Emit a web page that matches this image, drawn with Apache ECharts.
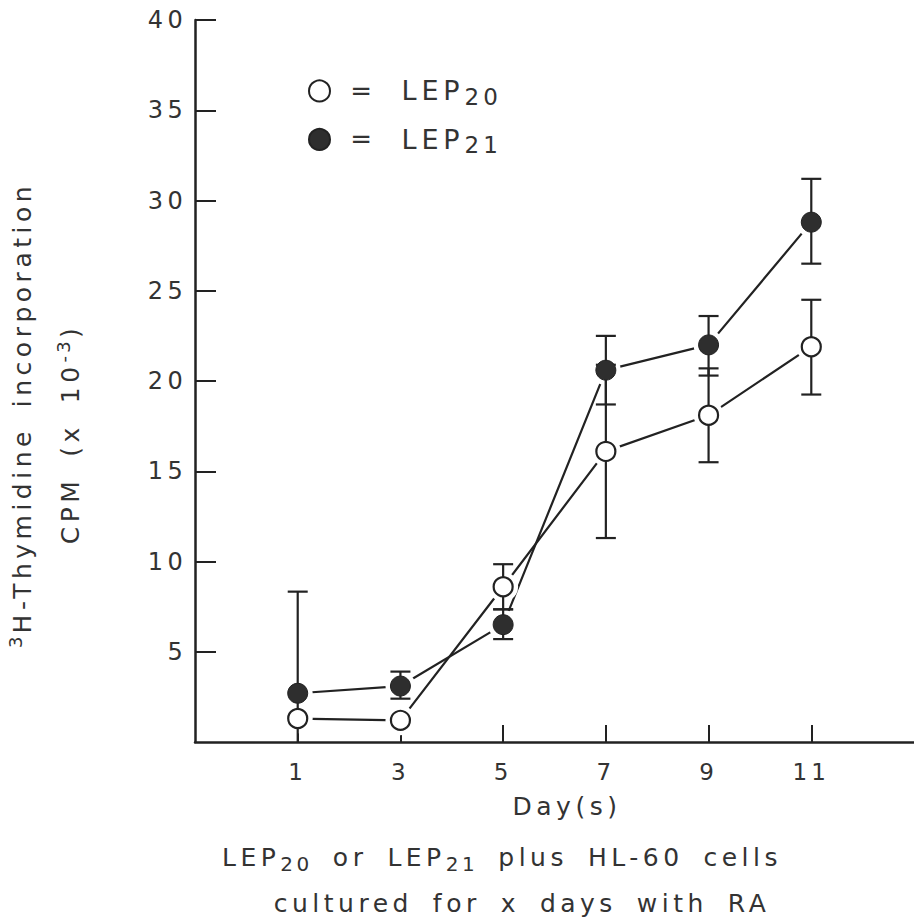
<!DOCTYPE html>
<html>
<head>
<meta charset="utf-8">
<script src="https://cdn.jsdelivr.net/npm/echarts@6/dist/echarts.min.js"></script>
<style>
  html, body { margin: 0; padding: 0; background: #ffffff; }
  #chart { width: 914px; height: 918px; }
  /* wide, plotter-style lettering */
  #chart svg text {
    font-family: "DejaVu Sans", Verdana, sans-serif !important;
    letter-spacing: 0.18em;
    word-spacing: 0.3em;
  }
</style>
</head>
<body>
<div id="chart"></div>
<script>
// Days of culture with RA
const days = [1, 3, 5, 7, 9, 11];

// LEP20 (open circles): mean and error-bar ends, CPM x 10^-3
const lep20Mean = [1.3, 1.2, 8.6, 16.1, 18.1, 21.9];
const lep20Low  = [1.3, 1.2, 7.35, 11.3, 15.5, 19.25];
const lep20High = [1.3, 1.2, 9.85, 20.9, 20.7, 24.5];

// LEP21 (filled circles): mean and error-bar ends, CPM x 10^-3
const lep21Mean = [2.7, 3.1, 6.5, 20.6, 22.0, 28.8];
const lep21Low  = [0, 2.4, 5.7, 18.7, 20.3, 26.5];
const lep21High = [8.33, 3.9, 7.35, 22.5, 23.6, 31.2];

// Tick positions
const xTicks = [1, 3, 5, 7, 9, 11];
const yTicks = [5, 10, 15, 20, 25, 30, 35, 40];

const INK = '#222222';
const TEXT = '#333333';
const FONT = 'DejaVu Sans, Verdana, sans-serif';
const LETTER_EM = 0.18;
const WORD_EM = 0.3;

// Text measurement that includes the extra letter and word spacing set in the stylesheet
const measureCtx = document.createElement('canvas').getContext('2d');
echarts.setPlatformAPI({
  measureText(text, font) {
    measureCtx.font = font || '12px sans-serif';
    const str = text == null ? '' : String(text);
    const base = measureCtx.measureText(str).width;
    const m = /(\d+(?:\.\d+)?)px/.exec(measureCtx.font);
    const size = m ? parseFloat(m[1]) : 12;
    const spaces = (str.match(/ /g) || []).length;
    return { width: base + size * (LETTER_EM * str.length + WORD_EM * spaces) };
  }
});

const pairs = (vals) => days.map((d, i) => [d, vals[i]]);
const bars = (lo, hi) => days.map((d, i) => [d, lo[i], hi[i]]);

// Vertical error bar with flat caps; a bar cut off at the axis gets no lower cap
function renderErrorBar(params, api) {
  const x = api.value(0);
  const lo = api.value(1);
  const hi = api.value(2);
  if (hi - lo <= 0) return null;
  const pLo = api.coord([x, lo]);
  const pHi = api.coord([x, hi]);
  const half = 10;
  const style = { stroke: INK, lineWidth: 2.2 };
  const children = [
    { type: 'line', shape: { x1: pLo[0], y1: pLo[1], x2: pHi[0], y2: pHi[1] }, style },
    { type: 'line', shape: { x1: pHi[0] - half, y1: pHi[1], x2: pHi[0] + half, y2: pHi[1] }, style }
  ];
  if (lo > 0) {
    children.push({ type: 'line', shape: { x1: pLo[0] - half, y1: pLo[1], x2: pLo[0] + half, y2: pLo[1] }, style });
  }
  return { type: 'group', children };
}

const subRich = {
  t:   { fontSize: 25, fontFamily: FONT, fill: TEXT, lineHeight: 34 },
  sub: { fontSize: 20, fontFamily: FONT, fill: TEXT, padding: [13, 0, 0, 0] },
  sup: { fontSize: 18, fontFamily: FONT, fill: TEXT, padding: [0, 0, 13, 0] }
};

const chart = echarts.init(document.getElementById('chart'), null, { renderer: 'svg' });

chart.setOption({
  animation: false,
  backgroundColor: '#ffffff',
  grid: { left: 195, right: 0, top: 20, bottom: 176, containLabel: false },
  xAxis: {
    type: 'value',
    min: -1,
    max: 13,
    splitLine: { show: false },
    axisLine: { show: true, onZero: false, lineStyle: { color: INK, width: 2.5 } },
    axisTick: { show: true, inside: true, length: 17, customValues: xTicks, lineStyle: { color: INK, width: 2 } },
    axisLabel: { customValues: xTicks, margin: 16, color: TEXT, fontSize: 23, fontFamily: FONT }
  },
  yAxis: {
    type: 'value',
    min: 0,
    max: 40,
    splitLine: { show: false },
    axisLine: { show: true, onZero: false, lineStyle: { color: INK, width: 2.5 } },
    axisTick: { show: true, inside: true, length: 21, customValues: yTicks, lineStyle: { color: INK, width: 2 } },
    axisLabel: { customValues: yTicks, margin: 8, color: TEXT, fontSize: 24, fontFamily: FONT }
  },
  legend: {
    orient: 'vertical',
    left: 303,
    top: 70,
    itemWidth: 24,
    itemHeight: 21,
    itemGap: 13,
    selectedMode: false,
    data: [{ name: 'LEP20', icon: 'circle' }, { name: 'LEP21', icon: 'circle' }],
    formatter: (name) => '{eq|=}{t|LEP}{sub|' + name.slice(3) + '}',
    textStyle: {
      rich: {
        eq:  { fontSize: 26, fontFamily: FONT, color: TEXT, width: 54, align: 'center', lineHeight: 36 },
        t:   { fontSize: 27, fontFamily: FONT, color: TEXT, padding: [0, 0, 0, 11], lineHeight: 36 },
        sub: { fontSize: 23, fontFamily: FONT, color: TEXT, padding: [12, 0, 0, 0] }
      }
    }
  },
  series: [
    { name: 'LEP20 trend', type: 'line', z: 2, data: pairs(lep20Mean), symbol: 'none', lineStyle: { color: INK, width: 2.2 } },
    { name: 'LEP21 trend', type: 'line', z: 2, data: pairs(lep21Mean), symbol: 'none', lineStyle: { color: INK, width: 2.2 } },
    // white clearance around each point so the connecting lines stop short of the markers
    { name: 'LEP20 clear', type: 'scatter', z: 3, silent: true, data: pairs(lep20Mean), symbolSize: 30, itemStyle: { color: '#ffffff', opacity: 1 } },
    { name: 'LEP21 clear', type: 'scatter', z: 3, silent: true, data: pairs(lep21Mean), symbolSize: 30, itemStyle: { color: '#ffffff', opacity: 1 } },
    { name: 'LEP20 error', type: 'custom', z: 4, data: bars(lep20Low, lep20High), encode: { x: 0, y: [1, 2] }, renderItem: renderErrorBar },
    { name: 'LEP21 error', type: 'custom', z: 4, data: bars(lep21Low, lep21High), encode: { x: 0, y: [1, 2] }, renderItem: renderErrorBar },
    { name: 'LEP20', type: 'scatter', z: 5, data: pairs(lep20Mean), symbol: 'circle', symbolSize: 19,
      itemStyle: { color: '#ffffff', borderColor: INK, borderWidth: 2.2, opacity: 1 } },
    { name: 'LEP21', type: 'scatter', z: 5, data: pairs(lep21Mean), symbol: 'circle', symbolSize: 20,
      itemStyle: { color: '#2e2e2e', borderColor: INK, borderWidth: 1, opacity: 1 } }
  ],
  graphic: [
    {
      type: 'text', x: 22, y: 415, rotation: Math.PI / 2,
      style: { text: '{sup|3}{t|H-Thymidine incorporation}', align: 'center', verticalAlign: 'middle', rich: subRich }
    },
    {
      type: 'text', x: 70, y: 434, rotation: Math.PI / 2,
      style: { text: '{t|CPM (x 10}{sup|-3}{t|)}', align: 'center', verticalAlign: 'middle', rich: subRich }
    },
    {
      type: 'text', x: 567, y: 806,
      style: { text: '{t|Day(s)}', align: 'center', verticalAlign: 'middle', rich: subRich }
    },
    {
      type: 'text', x: 502, y: 857,
      style: { text: '{t|LEP}{sub|20}{t| or LEP}{sub|21}{t| plus HL-60 cells}', align: 'center', verticalAlign: 'middle', rich: subRich }
    },
    {
      type: 'text', x: 522, y: 903,
      style: { text: '{t|cultured for x days with RA}', align: 'center', verticalAlign: 'middle', rich: subRich }
    }
  ]
});
</script>
</body>
</html>
